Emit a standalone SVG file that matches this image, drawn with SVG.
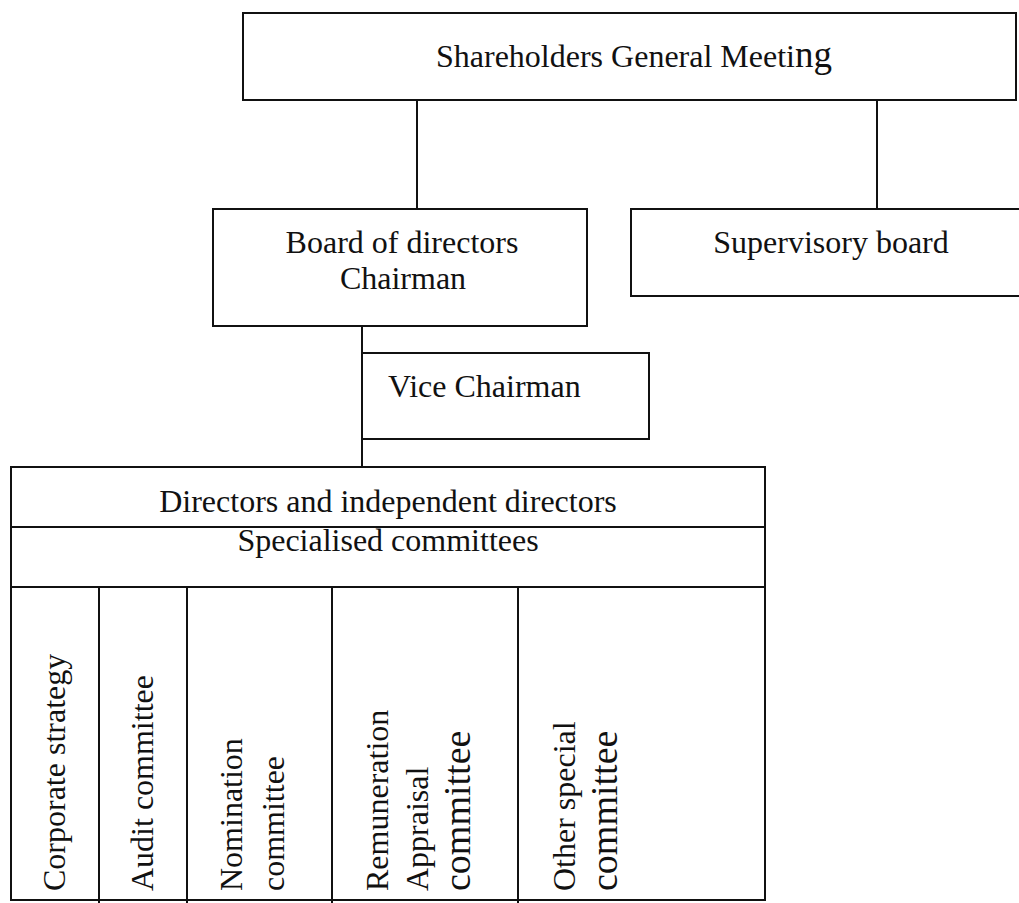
<svg xmlns="http://www.w3.org/2000/svg" width="1019" height="903" viewBox="0 0 1019 903">
<style>
  .box { fill: #fff; stroke: #111; stroke-width: 2; }
  .line { stroke: #111; stroke-width: 2; fill: none; }
  text { font-family: "Liberation Serif", "Times New Roman", serif; font-size: 32px; fill: #111; }
  .c { text-anchor: middle; }
  .big { font-size: 38px; }
</style>
<rect width="1019" height="903" fill="#fff"/>
<g id="connectors">
  <line class="line" x1="417" y1="100" x2="417" y2="209"/>
  <line class="line" x1="877" y1="100" x2="877" y2="209"/>
  <line class="line" x1="362" y1="326" x2="362" y2="467"/>
</g>
<g id="shareholders">
  <rect class="box" x="243" y="13" width="773" height="87"/>
  <text x="436" y="67">Shareholders General Meeti<tspan font-size="37">ng</tspan></text>
</g>
<g id="board">
  <rect class="box" x="213" y="209" width="374" height="117"/>
  <text class="c" x="402" y="253">Board of directors</text>
  <text class="c" x="403" y="289">Chairman</text>
</g>
<g id="supervisory">
  <rect class="box" x="631" y="209" width="400" height="87"/>
  <text class="c" x="831" y="253">Supervisory board</text>
</g>
<g id="vice">
  <rect class="box" x="362" y="353" width="287" height="86"/>
  <text x="388" y="397">Vice Chairman</text>
</g>
<g id="directors">
  <rect class="box" x="11" y="467" width="754" height="60"/>
  <text class="c" x="388" y="512">Directors and independent directors</text>
</g>
<g id="specialised">
  <rect class="box" x="11" y="527" width="754" height="60"/>
  <text class="c" x="388" y="551">Specialised committees</text>
</g>
<g id="committees">
  <rect class="box" x="11" y="587" width="754" height="313"/>
  <line class="line" x1="99" y1="587" x2="99" y2="903"/>
  <line class="line" x1="187" y1="587" x2="187" y2="903"/>
  <line class="line" x1="332" y1="587" x2="332" y2="903"/>
  <line class="line" x1="518" y1="587" x2="518" y2="903"/>
</g>
<g id="corporate-strategy">
  <text transform="translate(65,891) rotate(-90)">Corporate strategy</text>
</g>
<g id="audit-committee">
  <text transform="translate(153,891) rotate(-90)">Audit committee</text>
</g>
<g id="nomination-committee">
  <text transform="translate(242,891) rotate(-90)">Nomination</text>
  <text transform="translate(284,891) rotate(-90)">committee</text>
</g>
<g id="remuneration-committee">
  <text transform="translate(388,891) rotate(-90)">Remuneration</text>
  <text transform="translate(428,891) rotate(-90)">Appraisal</text>
  <text class="big" transform="translate(470,891) rotate(-90)">committee</text>
</g>
<g id="other-committee">
  <text transform="translate(575,891) rotate(-90)">Other special</text>
  <text class="big" transform="translate(617,891) rotate(-90)">committee</text>
</g>
</svg>
